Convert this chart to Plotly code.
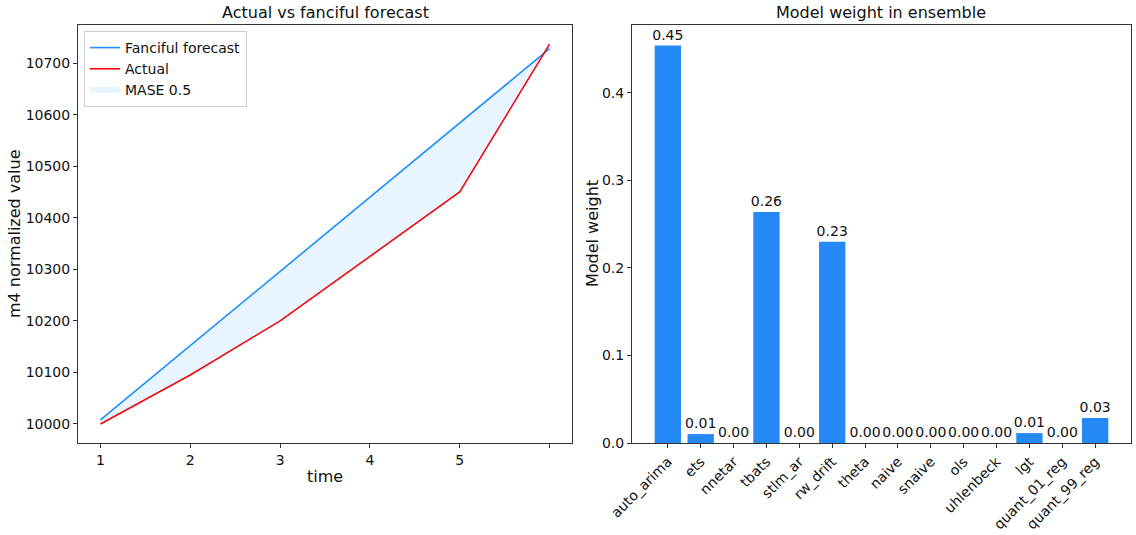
import plotly.graph_objects as go

# ---- data ----
time = [1, 2, 3, 4, 5, 6]
forecast = [10008, 10152, 10296, 10440, 10584, 10728]
actual = [10000, 10095, 10200, 10325, 10450, 10737]
left_tickvals = [1, 2, 3, 4, 5, 6]
left_ticktext = ["1", "2", "3", "4", "5", ""]

models = ["auto_arima", "ets", "nnetar", "tbats", "stlm_ar", "rw_drift", "theta",
          "naive", "snaive", "ols", "uhlenbeck", "lgt", "quant_01_reg", "quant_99_reg"]
weights = [0.454, 0.0102, 0.0, 0.264, 0.0, 0.230, 0.0, 0.0, 0.0, 0.0, 0.0, 0.0113, 0.0, 0.0285]

W, H = 1136, 535
FONT = "DejaVu Sans"
AX = "#333333"

def px_x(p):
    return p / W

def px_y(p):
    return 1 - p / H

fig = go.Figure()

fig.add_trace(go.Scatter(x=time, y=forecast, mode="lines", name="Fanciful forecast",
                         line=dict(color="#1E90FF", width=1.6), xaxis="x", yaxis="y"))
fig.add_trace(go.Scatter(x=time, y=actual, mode="lines", name="Actual",
                         line=dict(color="#FF0000", width=1.6), xaxis="x", yaxis="y"))
fig.add_trace(go.Scatter(x=time + time[::-1], y=forecast + actual[::-1], mode="none",
                         fill="toself", fillcolor="rgba(30,144,255,0.1)", name="MASE 0.5",
                         xaxis="x", yaxis="y", hoverinfo="skip"))

fig.add_trace(go.Bar(x=list(range(len(models))), y=weights, marker=dict(color="#2589F5", line=dict(width=0)),
                     width=0.8, text=[f"{w:.2f}" for w in weights], textposition="outside",
                     constraintext="none",
                     textfont=dict(family=FONT, size=14, color="#111111"), cliponaxis=False,
                     showlegend=False, xaxis="x2", yaxis="y2"))

axis_common = dict(showline=True, mirror=True, linecolor=AX, linewidth=1, ticks="outside",
                   ticklen=4, tickcolor=AX, showgrid=False, zeroline=False, automargin=False,
                   tickfont=dict(family=FONT, size=14, color="#111111"))

TITLE_FONT = dict(family=FONT, size=16, color="#111111")

fig.update_layout(
    width=W, height=H,
    margin=dict(l=0, r=0, t=0, b=0, autoexpand=False),
    plot_bgcolor="white", paper_bgcolor="white",
    font=dict(family=FONT, size=14, color="#111111"),
    xaxis=dict(domain=[px_x(78), px_x(572)], range=[0.75, 6.25], tickvals=left_tickvals,
               ticktext=left_ticktext, anchor="y", **axis_common),
    yaxis=dict(domain=[px_y(443), px_y(25)], range=[9963, 10774], tickvals=list(range(10000, 10701, 100)),
               tickformat="d", anchor="x", **axis_common),
    xaxis2=dict(domain=[px_x(632), px_x(1131)], range=[-1.09, 14.09], tickvals=list(range(len(models))),
                ticktext=models, tickangle=-45, anchor="y2", **axis_common),
    yaxis2=dict(domain=[px_y(443), px_y(25)], range=[0, 0.4775], tickvals=[0, 0.1, 0.2, 0.3, 0.4],
                tickformat=".1f", anchor="x2", **axis_common),
    legend=dict(x=px_x(84), y=px_y(31), xanchor="left", yanchor="top",
                bgcolor="rgba(255,255,255,0.8)", bordercolor="#CCCCCC", borderwidth=1,
                font=dict(family=FONT, size=14, color="#111111"), tracegroupgap=0),
    annotations=[
        dict(text="Actual vs fanciful forecast", x=px_x(325), y=px_y(13), xref="paper", yref="paper",
             showarrow=False, font=TITLE_FONT, xanchor="center", yanchor="middle"),
        dict(text="Model weight in ensemble", x=px_x(881), y=px_y(13), xref="paper", yref="paper",
             showarrow=False, font=TITLE_FONT, xanchor="center", yanchor="middle"),
        dict(text="time", x=px_x(325), y=px_y(476), xref="paper", yref="paper",
             showarrow=False, font=TITLE_FONT, xanchor="center", yanchor="middle"),
        dict(text="m4 normalized value", x=px_x(14), y=px_y(234), xref="paper", yref="paper", textangle=-90,
             showarrow=False, font=TITLE_FONT, xanchor="center", yanchor="middle"),
        dict(text="Model weight", x=px_x(592), y=px_y(234), xref="paper", yref="paper", textangle=-90,
             showarrow=False, font=TITLE_FONT, xanchor="center", yanchor="middle"),
    ],
)

fig.write_html("out.html", config={"displayModeBar": False},
               post_script="document.body.style.margin='0px';document.body.style.overflow='hidden';")
